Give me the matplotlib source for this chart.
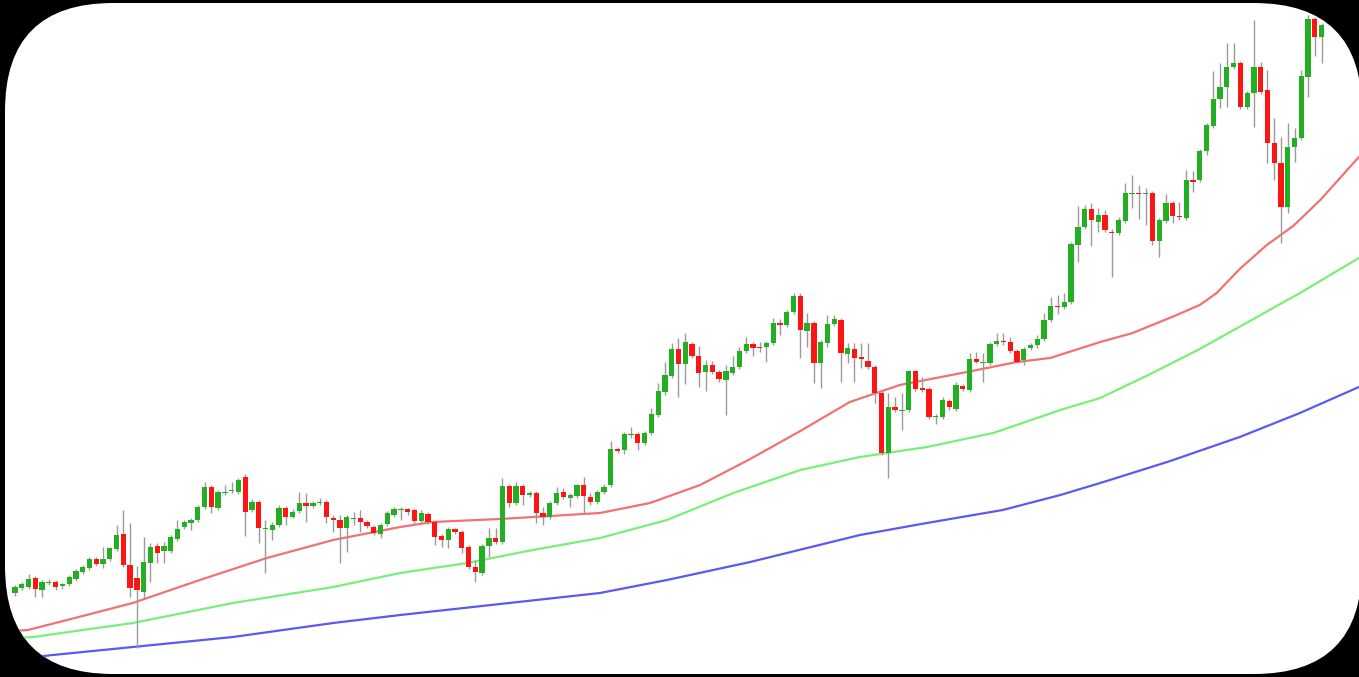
import matplotlib
matplotlib.use("Agg")
import matplotlib.pyplot as plt
from matplotlib.patches import FancyBboxPatch
import numpy as np

# candle data (open, high, low, close), one entry per bar
opens = [87, 92, 93, 102, 90, 97, 98, 94, 96, 101, 108, 112, 121, 116, 121, 131, 146, 115, 102, 88,
         117, 134, 129, 129, 141, 153, 157, 160, 173, 193, 172, 187, 189, 188, 203, 170, 178, 151, 150, 155,
         172, 163, 169, 177, 174, 177, 178, 162, 160, 152, 161, 162, 158, 153, 146, 156, 165, 170, 171, 170,
         159, 166, 158, 144, 140, 151, 148, 133, 113, 107, 134, 142, 138, 194, 177, 194, 185, 187, 167, 163,
         177, 188, 182, 184, 195, 183, 178, 188, 195, 231, 230, 245, 246, 237, 247, 265, 288, 304, 331, 316,
         336, 324, 308, 315, 308, 300, 307, 313, 329, 336, 333, 333, 337, 357, 355, 368, 384, 349, 357, 317,
         337, 356, 360, 326, 331, 323, 319, 313, 287, 227, 273, 269, 270, 309, 292, 291, 263, 263, 279, 271,
         294, 290, 321, 317, 317, 336, 339, 338, 329, 320, 332, 335, 341, 360, 374, 373, 378, 435, 453, 471,
         458, 465, 448, 447, 459, 486, 487, 486, 487, 439, 459, 477, 464, 462, 500, 500, 529, 554, 581, 593,
         613, 617, 573, 587, 613, 590, 537, 517, 473, 533, 542, 603, 661, 643]
highs = [95, 98, 106, 104, 100, 101, 100, 97, 105, 111, 115, 123, 123, 133, 133, 155, 170, 157, 114, 143,
         137, 137, 138, 145, 160, 160, 162, 175, 198, 195, 190, 195, 198, 202, 206, 181, 180, 160, 158, 175,
         174, 171, 188, 187, 179, 182, 180, 165, 165, 165, 168, 170, 160, 155, 157, 169, 173, 173, 172, 172,
         170, 168, 160, 146, 153, 152, 150, 135, 120, 136, 152, 152, 202, 196, 198, 196, 189, 189, 173, 179,
         193, 192, 187, 196, 203, 187, 190, 196, 239, 233, 248, 253, 248, 249, 272, 297, 318, 337, 342, 347,
         338, 334, 320, 319, 310, 315, 324, 333, 343, 338, 338, 339, 362, 361, 370, 387, 387, 367, 359, 340,
         365, 365, 362, 337, 337, 337, 337, 315, 289, 287, 283, 287, 310, 310, 303, 293, 266, 283, 281, 298,
         296, 327, 328, 327, 338, 347, 347, 343, 331, 333, 337, 345, 367, 383, 385, 387, 438, 474, 475, 477,
         472, 470, 451, 463, 497, 505, 495, 492, 489, 462, 486, 479, 478, 510, 509, 531, 557, 609, 617, 637,
         637, 619, 589, 660, 618, 610, 562, 543, 557, 552, 610, 665, 663, 657]
lows = [84, 90, 91, 83, 83, 95, 90, 91, 94, 99, 106, 110, 114, 112, 119, 129, 113, 83, 32, 82,
        98, 117, 117, 127, 139, 151, 150, 158, 171, 167, 170, 185, 187, 186, 144, 168, 137, 107, 140, 153,
        155, 162, 167, 158, 172, 175, 157, 148, 117, 128, 155, 148, 152, 145, 142, 154, 163, 160, 165, 157,
        157, 156, 135, 133, 132, 146, 127, 111, 98, 105, 123, 136, 136, 173, 175, 175, 183, 157, 155, 161,
        175, 181, 173, 182, 167, 175, 176, 186, 193, 227, 226, 242, 230, 235, 245, 263, 285, 302, 283, 296,
        322, 293, 289, 306, 298, 265, 305, 311, 327, 324, 328, 318, 335, 345, 353, 366, 322, 333, 297, 292,
        333, 354, 298, 317, 298, 312, 311, 277, 225, 202, 268, 250, 268, 289, 288, 261, 256, 261, 270, 269,
        289, 288, 317, 298, 315, 334, 335, 327, 317, 315, 330, 332, 339, 358, 366, 371, 376, 418, 451, 434,
        448, 448, 403, 445, 457, 472, 461, 455, 435, 423, 457, 457, 460, 460, 488, 498, 525, 552, 572, 573,
        611, 571, 571, 553, 586, 517, 500, 437, 467, 518, 540, 583, 624, 617]
closes = [93, 96, 101, 91, 98, 98, 93, 96, 103, 109, 113, 121, 116, 121, 132, 145, 115, 92, 90, 118,
          133, 127, 134, 143, 151, 158, 160, 173, 193, 173, 188, 188, 190, 200, 168, 178, 152, 152, 155, 172,
          163, 168, 177, 174, 177, 178, 163, 160, 152, 163, 162, 158, 154, 147, 155, 167, 171, 171, 168, 159,
          167, 158, 143, 140, 151, 148, 132, 113, 108, 134, 142, 138, 194, 177, 194, 185, 187, 167, 163, 177,
          187, 183, 185, 195, 184, 178, 188, 193, 231, 229, 246, 246, 237, 247, 266, 289, 305, 331, 316, 338,
          324, 307, 315, 308, 301, 309, 313, 329, 336, 332, 332, 337, 357, 355, 368, 384, 350, 357, 317, 338,
          356, 361, 327, 332, 322, 321, 313, 287, 227, 273, 270, 270, 309, 291, 290, 263, 264, 280, 273, 295,
          291, 321, 318, 318, 336, 339, 338, 329, 318, 331, 335, 341, 360, 374, 373, 378, 436, 453, 471, 460,
          465, 450, 447, 460, 487, 487, 486, 487, 439, 460, 477, 464, 463, 500, 498, 529, 555, 581, 593, 613,
          617, 573, 587, 613, 588, 537, 517, 473, 533, 542, 604, 661, 643, 655]

# moving averages, read at sample bars
ma_fast_idx = [-2.2, 1.9, 7.7, 17.4, 27.3, 37.2, 47.0, 56.9, 61.7, 71.6, 79.0, 86.4, 93.8, 101.2,
               108.6, 116.0, 123.3, 130.7, 140.6, 148.0, 152.9, 160.3, 165.1, 171.6, 175.0,
               177.5, 180.9, 184.9, 188.8, 192.8, 198.5]
ma_fast = [48, 50, 60, 77, 100, 122, 140, 153, 158, 161, 164, 167, 177, 195,
           221, 249, 278, 295, 308, 318, 322, 338, 347, 365, 375,
           387, 411, 435, 454, 480, 523]
ma_mid_idx = [-2.2, 2.7, 17.4, 32.2, 47.0, 56.9, 66.8, 76.5, 86.4, 96.3, 106.1, 116.0, 124.8, 134.7,
              144.5, 154.4, 160.3, 167.7, 175.0, 182.4, 189.8, 198.5]
ma_mid = [41, 43, 57, 77, 93, 107, 117, 130, 142, 160, 187, 210, 223, 233,
          247, 270, 282, 306, 331, 359, 387, 422]
ma_slow_idx = [-2.2, 5.6, 17.4, 32.2, 47.0, 56.9, 86.4, 96.3, 108.6, 124.8, 134.7, 145.9, 154.4, 160.3,
               170.2, 180.9, 189.8, 198.5]
ma_slow = [19, 25, 33, 43, 57, 65, 87, 100, 118, 145, 157, 170, 185, 197,
           218, 243, 267, 293]

fig = plt.figure(figsize=(13.59, 6.77), dpi=100, facecolor="black")
ax = fig.add_axes([0, 0, 1, 1])
ax.set_facecolor("none")

# white rounded card behind the chart
panel = FancyBboxPatch((0.05, 0.03), 13.57, 6.71, boxstyle="round,pad=0,rounding_size=1.08",
                       transform=fig.dpi_scale_trans, facecolor="white", edgecolor="none", zorder=-1)
fig.add_artist(panel)

o = np.array(opens)
h = np.array(highs)
l = np.array(lows)
c = np.array(closes)
idx = np.arange(len(o))
up = c >= o
colors = np.where(up, "#22b022", "#ff1414")

arts = []
arts.append(ax.vlines(idx, l, h, color="#9a9a9a", linewidth=1.0, zorder=2))
bottom = np.minimum(o, c)
height = np.maximum(np.abs(c - o), 1.5)
bars = ax.bar(idx, height, bottom=bottom, width=0.78, color=colors, linewidth=0, zorder=3)
arts.extend(bars.patches)

arts += ax.plot(ma_fast_idx, ma_fast, color="#f07272", linewidth=1.6, zorder=1)
arts += ax.plot(ma_mid_idx, ma_mid, color="#78f078", linewidth=1.6, zorder=1)
arts += ax.plot(ma_slow_idx, ma_slow, color="#5a5af0", linewidth=1.6, zorder=1)

for a in arts:
    a.set_clip_path(panel)

ax.set_xlim(-2.216, 198.52)
ax.set_ylim(3, 680)
ax.axis("off")

fig.savefig("out.png", dpi=100, facecolor="black")
